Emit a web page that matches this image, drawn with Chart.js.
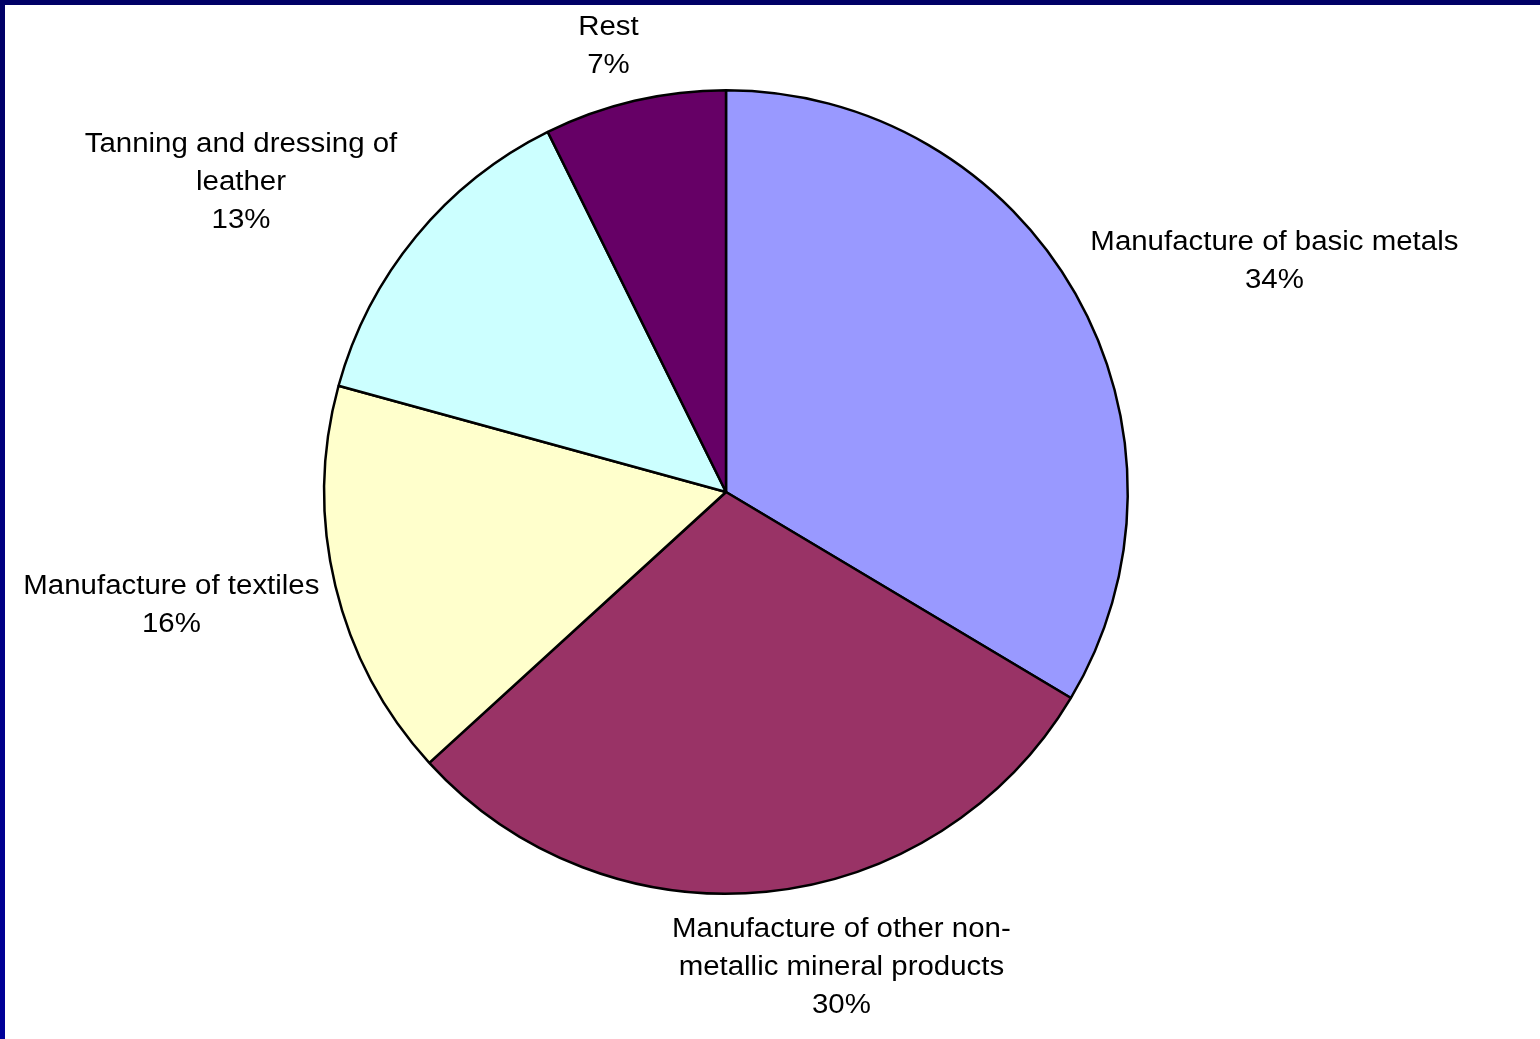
<!DOCTYPE html>
<html>
<head>
<meta charset="utf-8">
<script src="https://cdn.jsdelivr.net/npm/chart.js@4.4.1/dist/chart.umd.min.js"></script>
<style>
  html, body { margin: 0; padding: 0; background: #fff; }
  #wrap { position: relative; width: 1540px; height: 1039px; overflow: hidden; }
  #pieChart { position: absolute; left: 0; top: 0; }
  .edgeTop { position: absolute; left: 0; top: 0; width: 1540px; height: 5px; background: #000066; }
  .edgeLeft { position: absolute; left: 0; top: 0; width: 5px; height: 1039px; background: linear-gradient(#000066, #000099); }
</style>
</head>
<body>
<div id="wrap">
  <canvas id="pieChart" width="1540" height="1039"></canvas>
  <div class="edgeTop"></div>
  <div class="edgeLeft"></div>
</div>
<script>
// slices, clockwise from 12 o'clock
const categories = [
  ['Manufacture of basic metals'],
  ['Manufacture of other non-', 'metallic mineral products'],
  ['Manufacture of textiles'],
  ['Tanning and dressing of', 'leather'],
  ['Rest']
];
const shares = [33.5, 29.6, 16.0, 13.4, 7.3];
const sliceColors = ['#9999FF', '#993366', '#FFFFCC', '#CCFFFF', '#660066'];

// where each label block sits, relative to the rim point at the slice middle
const labelNudge = [[199, -32], [75, 76], [-164, 20], [-175, -54], [-26, -54]];

const lineGap = 38;

const outsideLabels = {
  id: 'outsideLabels',
  afterDatasetsDraw(chart) {
    const ctx = chart.ctx;
    const meta = chart.getDatasetMeta(0);
    const total = shares.reduce((a, b) => a + b, 0);
    ctx.save();
    ctx.fillStyle = '#000';
    ctx.font = '27px "Liberation Sans", Arial, sans-serif';
    ctx.textAlign = 'center';
    ctx.textBaseline = 'middle';
    meta.data.forEach((arc, i) => {
      const p = arc.getProps(['x', 'y', 'startAngle', 'endAngle', 'outerRadius'], true);
      const mid = (p.startAngle + p.endAngle) / 2;
      const rx = p.x + Math.cos(mid) * p.outerRadius;
      const ry = p.y + Math.sin(mid) * p.outerRadius;
      const lines = categories[i].concat([Math.round(shares[i] / total * 100) + '%']);
      const cx = rx + labelNudge[i][0];
      const cy = ry + labelNudge[i][1];
      const top = cy - (lines.length - 1) * lineGap / 2;
      lines.forEach((t, k) => {
        ctx.save();
        ctx.translate(cx, top + k * lineGap);
        ctx.scale(1.09, 1); // text in the original is drawn a bit wide
        ctx.fillText(t, 0, 0);
        ctx.restore();
      });
    });
    ctx.restore();
  }
};

const ctxPie = document.getElementById('pieChart').getContext('2d');

let pieChart = new Chart(ctxPie, {
  type: 'pie',
  data: {
    labels: categories.map(c => c.join(' ')),
    datasets: [{
      data: shares,
      backgroundColor: sliceColors,
      borderColor: '#000',
      borderWidth: 2.5
    }]
  },
  options: {
    responsive: false,
    animation: false,
    layout: {
      padding: { top: 89, bottom: 144, left: 323, right: 411 }
    },
    plugins: {
      legend: { display: false },
      tooltip: { enabled: false }
    }
  },
  plugins: [outsideLabels]
});
</script>
</body>
</html>
